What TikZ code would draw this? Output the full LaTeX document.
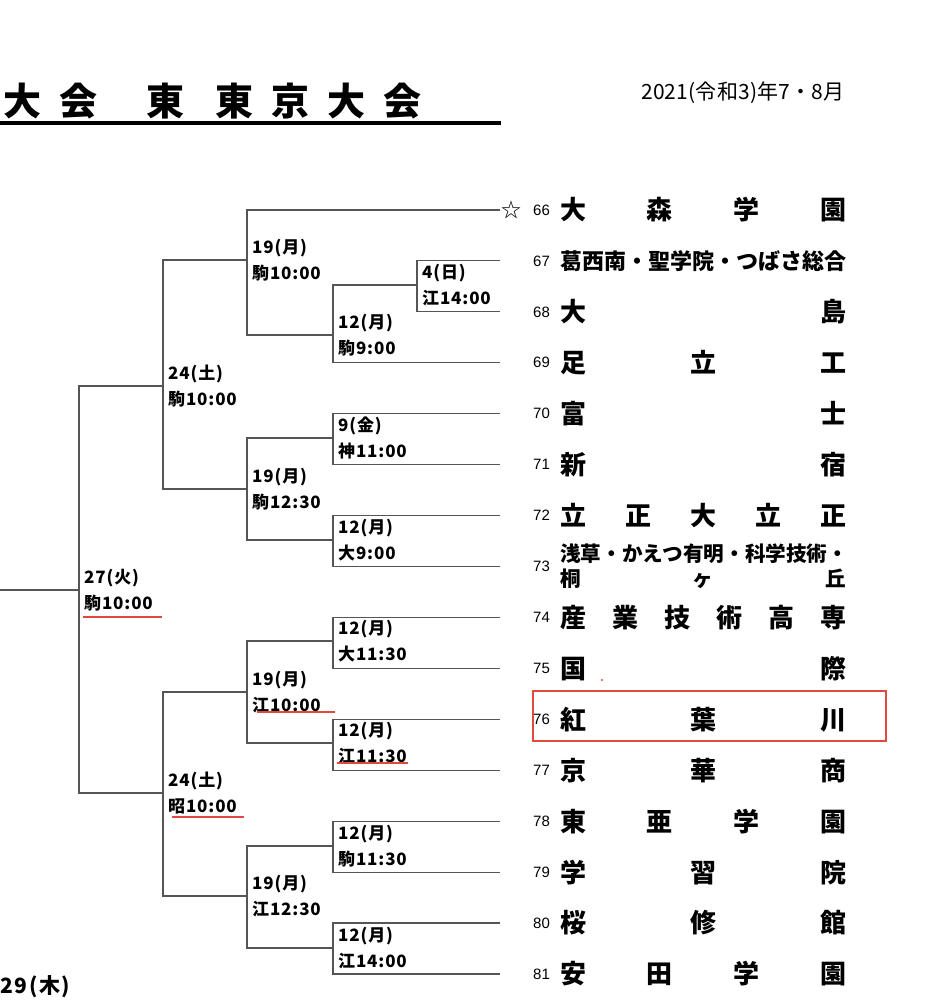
\documentclass[tikz,border=0pt]{standalone}
\usepackage{fontspec}
\newfontfamily\jp{Noto Sans CJK JP}
\newfontfamily\nums{Liberation Sans}
\usetikzlibrary{positioning, math}
\definecolor{penred}{RGB}{224,74,62}
\definecolor{rule}{RGB}{85,85,85}
\newcommand\spread[1]{\makebox[286pt][s]{#1}}

\begin{document}
\begin{tikzpicture}[x=1pt, y=-1pt,
  bk/.style={draw=rule, line width=1.1pt},
  lab/.style={anchor=west, inner sep=0pt, font=\jp\bfseries\fontsize{17}{17}\selectfont\addfontfeature{LetterSpace=5}},
  team/.style={inner sep=0pt, font=\jp\bfseries\fontsize{26}{26}\selectfont},
  num/.style={inner sep=0pt, font=\nums\fontsize{15}{15}\selectfont},
  ttl/.style={inner sep=0pt, font=\jp\bfseries\fontsize{38}{38}\selectfont},
  redline/.style={draw=penred, line width=2pt}]
\tikzmath{
\ytop=210;
\dy=50.93;
}

\fill[white] (0,0) rectangle (928,1000);
\useasboundingbox (0,0) rectangle (928,1000);

% heading
\foreach \c/\x in {大/22,会/78,東/165,東/234,京/290,大/346,会/402}
  \node[ttl] (h\x) at (\x,101) {\c};
\draw[line width=3.5pt] (0,123) -- (501,123);
\node[anchor=west, inner sep=0pt, font=\jp\fontsize{21}{21}\selectfont\addfontfeature{LetterSpace=1}] (date) at (641,93) {2021(令和3)年7・8月};

% team rows
\foreach \n in {66,...,81}{
  \coordinate (e\n) at (500,{\ytop+(\n-66)*\dy});
  \node[num, right=33pt of e\n] (n\n) {\n};
}
\node[inner sep=0pt, font=\jp\fontsize{20}{20}\selectfont, right=1pt of e66] (seed) {☆};

\node[team, right=60pt of e66] (s66) {\spread{大\hfill 森\hfill 学\hfill 園}};
\node[team, right=60pt of e67, font=\jp\bfseries\fontsize{22}{22}\selectfont] (s67) {葛西南・聖学院・つばさ総合};
\node[team, right=60pt of e68] (s68) {\spread{大\hfill 島}};
\node[team, right=60pt of e69] (s69) {\spread{足\hfill 立\hfill 工}};
\node[team, right=60pt of e70] (s70) {\spread{富\hfill 士}};
\node[team, right=60pt of e71] (s71) {\spread{新\hfill 宿}};
\node[team, right=60pt of e72] (s72) {\spread{立\hfill 正\hfill 大\hfill 立\hfill 正}};
\node[team, right=60pt of e73, align=left, font=\jp\bfseries\fontsize{20.6}{25}\selectfont] (s73) {浅草・かえつ有明・科学技術・\\\spread{桐\hfill ヶ\hfill 丘}};
\node[team, right=60pt of e74] (s74) {\spread{産\hfill 業\hfill 技\hfill 術\hfill 高\hfill 専}};
\node[team, right=60pt of e75] (s75) {\spread{国\hfill 際}};
\node[team, right=60pt of e76] (s76) {\spread{紅\hfill 葉\hfill 川}};
\node[team, right=60pt of e77] (s77) {\spread{京\hfill 華\hfill 商}};
\node[team, right=60pt of e78] (s78) {\spread{東\hfill 亜\hfill 学\hfill 園}};
\node[team, right=60pt of e79] (s79) {\spread{学\hfill 習\hfill 院}};
\node[team, right=60pt of e80] (s80) {\spread{桜\hfill 修\hfill 館}};
\node[team, right=60pt of e81] (s81) {\spread{安\hfill 田\hfill 学\hfill 園}};

% match points
\coordinate (m4) at (417,285);
\coordinate (m12a) at (333,335);
\coordinate (m19a) at (247,260);
\coordinate (m9) at (333,438);
\coordinate (m12b) at (333,540);
\coordinate (m19b) at (247,489);
\coordinate (m24a) at (163,386);
\coordinate (m27) at (79,590);
\coordinate (m12c) at (333,641);
\coordinate (m12d) at (333,743);
\coordinate (m19c) at (247,692);
\coordinate (m12e) at (333,846);
\coordinate (m12f) at (333,948);
\coordinate (m19d) at (247,896);
\coordinate (m24b) at (163,793);
\coordinate (out) at (0,590);

\draw[bk] (e67) -| (m4) |- (e68);
\draw[bk] (m4) -| (m12a) |- (e69);
\draw[bk] (e66) -| (m19a) |- (m12a);
\draw[bk] (e70) -| (m9) |- (e71);
\draw[bk] (e72) -| (m12b) |- (e73);
\draw[bk] (m9) -| (m19b) |- (m12b);
\draw[bk] (m19a) -| (m24a) |- (m19b);
\draw[bk] (e74) -| (m12c) |- (e75);
\draw[bk] (e76) -| (m12d) |- (e77);
\draw[bk] (m12c) -| (m19c) |- (m12d);
\draw[bk] (e78) -| (m12e) |- (e79);
\draw[bk] (e80) -| (m12f) |- (e81);
\draw[bk] (m12e) -| (m19d) |- (m12f);
\draw[bk] (m19c) -| (m24b) |- (m19d);
\draw[bk] (m24a) -| (m27) |- (m24b);
\draw[bk] (m27) -- (out);

% day and venue/time
\foreach \m/\d/\t in {m4/4(日)/江14:00, m12a/12(月)/駒9:00, m19a/19(月)/駒10:00,
    m9/9(金)/神11:00, m12b/12(月)/大9:00, m19b/19(月)/駒12:30, m24a/24(土)/駒10:00,
    m27/27(火)/駒10:00, m12c/12(月)/大11:30, m12d/12(月)/江11:30, m19c/19(月)/江10:00,
    m12e/12(月)/駒11:30, m12f/12(月)/江14:00, m19d/19(月)/江12:30, m24b/24(土)/昭10:00}{
  \node[lab] (\m-d) at ([shift={(5,-12)}]\m) {\d};
  \node[lab] (\m-t) at ([shift={(5,13)}]\m) {\t};
}

\node[anchor=west, inner sep=0pt, font=\jp\bfseries\fontsize{21}{21}\selectfont\addfontfeature{LetterSpace=8}] (fin) at (0,987) {29(木)};

% red marks
\draw[redline] (83,617) -- (162,617);
\draw[redline] (257,712) -- (335,712);
\draw[redline] (337,763) -- (408,763);
\draw[redline] (172,817) -- (244,817);
\draw[penred, line width=2pt] (533,691) rectangle (886,741);
\fill[penred] (602,680) circle (1.2pt);

\end{tikzpicture}
\end{document}
